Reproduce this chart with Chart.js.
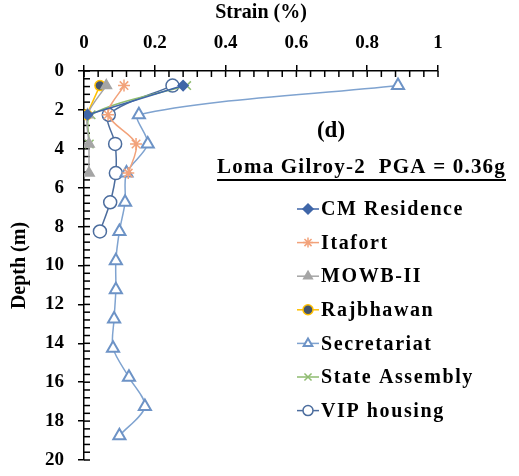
<!DOCTYPE html>
<html>
<head>
<meta charset="utf-8">
<script src="https://cdn.jsdelivr.net/npm/chart.js@4.4.1/dist/chart.umd.min.js"></script>
<style>
  html, body { margin: 0; padding: 0; background: #fff; overflow: hidden; }
  canvas { display: block; }
</style>
</head>
<body>
<canvas id="strainChart" width="519" height="476"></canvas>
<script>
// Strain profiles with depth, Loma Gilroy-2 motion
const depthTop = [0.75, 2.25];
const depthMid = [0.75, 2.25, 3.75, 5.25];
const depthVip = [0.75, 2.25, 3.75, 5.25, 6.75, 8.25];
const depthSecretariat = [0.75, 2.25, 3.75, 5.25, 6.75, 8.25, 9.75, 11.25, 12.75, 14.25, 15.75, 17.25, 18.75];

const cmResidence = [0.28, 0.01];
const itafort = [0.113, 0.068, 0.147, 0.125];
const mowb2 = [0.063, 0.01, 0.014, 0.014];
const rajbhawan = [0.045, 0.008];
const secretariat = [0.887, 0.155, 0.18, 0.12, 0.116, 0.1, 0.09, 0.09, 0.085, 0.082, 0.127, 0.172, 0.1];
const stateAssembly = [0.29, 0.02, 0.015];
const vipHousing = [0.25, 0.07, 0.088, 0.09, 0.074, 0.045];

const xTicks = [0, 0.2, 0.4, 0.6, 0.8, 1];
const yTicks = [0, 2, 4, 6, 8, 10, 12, 14, 16, 18, 20];
const xMinorStep = 0.04;
const yMinorStep = 0.4;
const panelLabel = '(d)';
const motionLabel = 'Loma Gilroy-2  PGA = 0.36g';

const serif = "'Liberation Serif', 'Times New Roman', serif";

function pairs(xs, ys) {
    return xs.map((x, i) => ({ x: x, y: ys[i] }));
}

function series(label, xs, ys, style) {
    return Object.assign({
        label: label,
        data: pairs(xs, ys),
        showLine: true,
        tension: 0.3,
        borderWidth: 1.5,
        pointBorderWidth: 1.5
    }, style);
}

const datasets = [
    series('CM Residence', cmResidence, depthTop, {
        borderColor: '#3F66A8', backgroundColor: '#3F66A8',
        pointStyle: 'rectRot', pointRadius: 5
    }),
    series('Itafort', itafort, depthMid, {
        borderColor: '#F2A27A', backgroundColor: '#F2A27A',
        pointStyle: 'star', pointRadius: 6
    }),
    series('MOWB-II', mowb2, depthMid, {
        borderColor: '#A5A5A5', backgroundColor: '#A5A5A5',
        pointStyle: 'triangle', pointRadius: 6
    }),
    series('Rajbhawan', rajbhawan, depthTop, {
        borderColor: '#FFC000', backgroundColor: '#44546A',
        pointBorderColor: '#FFC000', pointBackgroundColor: '#44546A',
        pointStyle: 'circle', pointRadius: 5
    }),
    series('Secretariat', secretariat, depthSecretariat, {
        borderColor: '#7FA3D0', backgroundColor: '#ffffff',
        pointBorderColor: '#6D93C6', pointBackgroundColor: '#ffffff',
        pointStyle: 'triangle', pointRadius: 7, pointBorderWidth: 2
    }),
    series('State Assembly', stateAssembly, depthMid.slice(0, 3), {
        borderColor: '#8FBC70', backgroundColor: '#8FBC70',
        pointStyle: 'crossRot', pointRadius: 6
    }),
    series('VIP housing', vipHousing, depthVip, {
        borderColor: '#4C6D9E', backgroundColor: '#ffffff',
        pointBorderColor: '#4C6D9E', pointBackgroundColor: '#ffffff',
        pointStyle: 'circle', pointRadius: 6.5
    })
];

// inward tick marks (majors and minors) along both axes
function drawInnerTicks(chart) {
    const c = chart.ctx;
    const xs = chart.scales.x;
    const ys = chart.scales.y;
    const left = chart.chartArea.left;
    const top = chart.chartArea.top;
    c.save();
    c.fillStyle = '#000000';
    const nx = Math.round((xs.max - xs.min) / xMinorStep);
    for (let i = 0; i <= nx; i++) {
        const px = xs.getPixelForValue(xs.min + i * xMinorStep);
        c.fillRect(px - 0.75, top, 1.5, 6);
    }
    const ny = Math.round((ys.max - ys.min) / yMinorStep);
    for (let i = 0; i <= ny; i++) {
        const py = ys.getPixelForValue(ys.min + i * yMinorStep);
        c.fillRect(left, py - 0.75, 6, 1.5);
    }
    c.restore();
}

// legend and panel captions inside the plot area
function drawCaptions(chart) {
    const c = chart.ctx;
    c.save();
    c.fillStyle = '#000';
    c.textBaseline = 'middle';

    c.font = 'bold 23px ' + serif;
    c.textAlign = 'center';
    c.fillText(panelLabel, 331, 131);

    c.font = 'bold 21px ' + serif;
    c.textAlign = 'left';
    c.letterSpacing = '1.2px';
    const w = c.measureText(motionLabel).width;
    const tx = 506 - w;
    c.fillText(motionLabel, tx, 168);
    c.fillRect(tx, 179, w, 2);

    c.font = 'bold 20px ' + serif;
    c.letterSpacing = '1.6px';
    chart.data.datasets.forEach((ds, i) => {
        const y = 209 + i * 33.6;
        c.fillStyle = ds.borderColor;
        c.fillRect(297, y - 0.75, 22, 1.5);
        c.fillStyle = ds.pointBackgroundColor || ds.backgroundColor;
        c.strokeStyle = ds.pointBorderColor || ds.borderColor;
        c.lineWidth = ds.pointBorderWidth;
        Chart.helpers.drawPoint(c, {
            pointStyle: ds.pointStyle,
            radius: Math.min(ds.pointRadius, 5),
            rotation: 0,
            borderWidth: ds.pointBorderWidth
        }, 308, y);
        c.fillStyle = '#000';
        c.fillText(ds.label, 321, y + 1);
    });
    c.restore();
}

function noEdgePadding(scale) {
    scale.paddingTop = 0;
    scale.paddingBottom = 0;
    scale.paddingLeft = 0;
    scale.paddingRight = 0;
}

// black axis line with short outward ticks at the labelled values
const axisGrid = {
    display: true,
    drawOnChartArea: false,
    drawTicks: true,
    tickLength: 6,
    tickColor: '#000000',
    tickWidth: 1.5,
    color: '#000000',
    lineWidth: 1.5
};
const axisBorder = { display: true, color: '#000000', width: 1.5 };

new Chart(document.getElementById('strainChart').getContext('2d'), {
    type: 'scatter',
    data: { datasets: datasets },
    options: {
        responsive: false,
        animation: false,
        layout: { padding: { top: 0, left: 0, right: 81, bottom: 16 } },
        plugins: {
            legend: { display: false },
            tooltip: { enabled: false }
        },
        scales: {
            x: {
                type: 'linear',
                position: 'top',
                min: 0,
                max: 1,
                afterBuildTicks: scale => { scale.ticks = xTicks.map(v => ({ value: v })); },
                afterFit: scale => { scale.height = 71; noEdgePadding(scale); },
                grid: axisGrid,
                border: axisBorder,
                ticks: {
                    color: '#000',
                    padding: 11,
                    maxRotation: 0,
                    font: { family: serif, size: 19, weight: 'bold' },
                    callback: v => String(v)
                },
                title: {
                    display: true,
                    text: 'Strain (%)',
                    color: '#000',
                    padding: { top: 1, bottom: 0 },
                    font: { family: serif, size: 20, weight: 'bold' }
                }
            },
            y: {
                type: 'linear',
                reverse: true,
                min: 0,
                max: 20,
                afterBuildTicks: scale => { scale.ticks = yTicks.map(v => ({ value: v })); },
                afterFit: scale => { scale.width = 84; noEdgePadding(scale); },
                grid: axisGrid,
                border: axisBorder,
                ticks: {
                    color: '#000',
                    padding: 14,
                    font: { family: serif, size: 19, weight: 'bold' }
                },
                title: {
                    display: true,
                    text: 'Depth (m)',
                    color: '#000',
                    padding: { top: 8, bottom: 0 },
                    font: { family: serif, size: 20, weight: 'bold' }
                }
            }
        }
    },
    plugins: [
        { id: 'innerTicks', beforeDatasetsDraw: drawInnerTicks },
        { id: 'captions', afterDraw: drawCaptions }
    ]
});
</script>
</body>
</html>
